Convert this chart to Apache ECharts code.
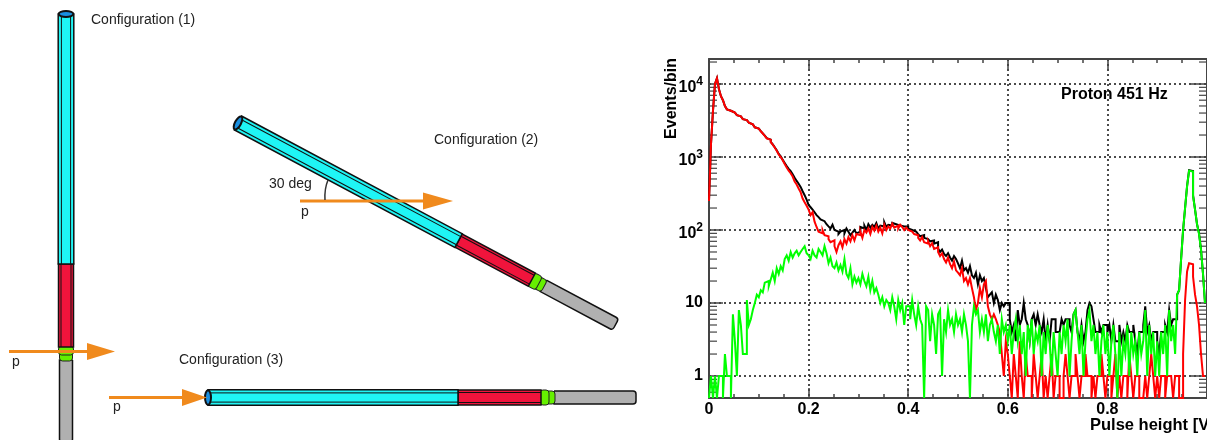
<!DOCTYPE html>
<html>
<head>
<meta charset="utf-8">
<title>Pulse height</title>
<script src="https://cdn.jsdelivr.net/npm/echarts@6/dist/echarts.min.js"></script>
<style>
	html, body { margin: 0; padding: 0; background: #fff; overflow: hidden; }
	#chart { width: 1207px; height: 440px; }
</style>
</head>
<body>
<div id="chart"></div>
<script>
	/* histogram contents, one row = 25 bins = 0.1 V */
	var binWidth = 0.004;

	var blackCounts = [
		250, 1500, 4300, 10000, 12000, 8500, 6800, 6000, 5000, 4500, 4300, 4200, 4050, 3900, 3750, 3600, 3450, 3300, 3200, 3050, 2950, 2800, 2650, 2550, 2450,
		2370, 2260, 2110, 1960, 1810, 1730, 1610, 1490, 1360, 1240, 1100, 1020, 920, 830, 750, 690, 640, 580, 520, 470, 430, 390, 340, 300, 260,
		220, 205, 190, 175, 160, 150, 140, 132, 125, 120, 112, 105, 118, 100, 95, 88, 95, 100, 90, 105, 95, 85, 92, 100, 90,
		95, 110, 105, 115, 100, 120, 108, 118, 110, 125, 105, 115, 112, 128, 110, 118, 115, 125, 120, 118, 115, 120, 112, 108, 112,
		105, 100, 102, 95, 92, 88, 82, 85, 78, 75, 78, 70, 72, 65, 68, 56, 50, 54, 47, 44, 48, 42, 38, 44, 40,
		35, 30, 38, 28, 30, 26, 32, 24, 22, 26, 18, 24, 20, 22, 16, 12, 13, 14, 10, 13, 11, 8, 10, 9, 10,
		10, 6, 4, 5, 3, 8, 5, 6, 10, 6, 5, 3, 6, 7, 5, 7, 5, 4, 6, 3, 5, 3, 6, 6, 4,
		4, 4, 6, 5, 6, 6, 5, 4, 7, 8, 4, 3, 5, 3, 4, 8, 10, 9, 6, 4, 4, 5, 4, 5, 5,
		4, 5, 3, 5, 3, 3, 5, 3, 4, 3, 5, 4, 4, 5, 3, 2, 4, 4, 5, 9, 4, 5, 3, 4, 4,
		3, 2, 4, 4, 5, 4, 8, 5, 6, 6, 13, 15, 40, 100, 200, 400, 660, 640, 300, 190, 120, 90, 54, 25, 10
	];

	var redCounts = [
		250, 1500, 4300, 10000, 12000, 8500, 6800, 6000, 5000, 4500, 4300, 4200, 4050, 3900, 3750, 3600, 3450, 3300, 3200, 3050, 2950, 2800, 2650, 2550, 2450,
		2370, 2250, 2100, 1950, 1800, 1720, 1600, 1480, 1350, 1220, 1080, 1000, 900, 800, 720, 650, 600, 540, 460, 420, 370, 330, 270, 240, 215,
		190, 160, 175, 130, 110, 95, 90, 100, 85, 82, 75, 68, 72, 60, 50, 62, 70, 58, 75, 65, 80, 70, 85, 72, 88,
		85, 95, 78, 100, 92, 105, 88, 110, 98, 115, 95, 108, 90, 118, 100, 112, 105, 122, 108, 115, 105, 118, 110, 100, 108,
		100, 95, 98, 88, 85, 78, 72, 80, 68, 65, 70, 60, 66, 55, 58, 50, 44, 48, 40, 36, 42, 34, 30, 37, 28,
		26, 24, 30, 20, 22, 18, 22, 16, 12, 8, 10, 16, 12, 18, 20, 9, 7, 6, 7, 6, 5, 4, 2, 1, 3,
		2, 1, 0, 2, 1, 0, 3, 1, 0, 2, 1, 1, 0, 2, 1, 0, 1, 2, 0, 1, 0, 1, 2, 0, 1,
		1, 0, 0, 1, 2, 1, 0, 1, 1, 2, 1, 0, 1, 1, 2, 1, 1, 0, 1, 0, 1, 1, 2, 1, 0,
		1, 1, 0, 1, 2, 0, 1, 0, 1, 1, 0, 2, 1, 0, 1, 1, 0, 0, 0, 1, 0, 1, 2, 1, 0,
		1, 0, 1, 1, 0, 1, 1, 1, 0, 1, 1, 0, 0, 2, 11, 27, 35, 34, 23, 13, 9, 5, 2, 1, 1
	];

	var greenCounts = [
		0, 1, 0, 1, 0, 1, 1, 0, 2, 1, 1, 0, 7, 3, 1, 8, 5, 2, 2, 11, 5, 6, 8, 10, 13,
		12, 15, 14, 19, 20, 17, 21, 26, 20, 30, 25, 32, 28, 40, 45, 38, 50, 42, 48, 52, 45, 50, 55, 60, 48,
		45, 40, 52, 45, 42, 55, 50, 45, 60, 48, 35, 42, 32, 30, 36, 28, 33, 27, 40, 25, 22, 30, 18, 23, 19,
		22, 18, 25, 20, 17, 23, 15, 20, 14, 16, 13, 10, 12, 9, 11, 10, 8, 12, 9, 6, 11, 8, 10, 5, 9,
		9, 6, 11, 7, 5, 9, 6, 5, 0, 9, 8, 3, 7, 5, 2, 7, 8, 1, 6, 4, 8, 5, 6, 4, 7,
		5, 6, 4, 7, 5, 3, 0, 5, 9, 7, 8, 4, 6, 4, 7, 3, 5, 6, 4, 3, 5, 2, 6, 4, 5,
		3, 5, 2, 4, 6, 3, 5, 2, 4, 1, 5, 3, 6, 2, 4, 3, 5, 1, 4, 2, 5, 3, 1, 4, 2,
		1, 4, 2, 5, 3, 6, 1, 3, 7, 8, 4, 2, 5, 1, 3, 6, 8, 3, 5, 2, 4, 1, 3, 5, 2,
		4, 1, 3, 5, 2, 0, 4, 1, 3, 2, 5, 1, 4, 2, 3, 1, 4, 2, 3, 8, 1, 5, 2, 4, 1,
		3, 1, 4, 2, 5, 1, 8, 3, 5, 2, 13, 15, 40, 100, 200, 400, 650, 630, 290, 190, 120, 88, 54, 25, 10
	];

	var yLimits = [0.5, 22000];
	var xLimits = [0, 1];
	var yMinorTicks = [
		0.6, 0.7, 0.8, 0.9,
		2, 3, 4, 5, 6, 7, 8, 9,
		20, 30, 40, 50, 60, 70, 80, 90,
		200, 300, 400, 500, 600, 700, 800, 900,
		2000, 3000, 4000, 5000, 6000, 7000, 8000, 9000,
		20000
	];

	var font = '"Liberation Sans", Arial, sans-serif';
	var frameColor = '#444';
	var orange = '#f08a1d';

	/* empty bins sit on the lower edge of the log axis */
	function toSeries(counts) {
		return counts.map(function(v, i) {
			return [+(i * binWidth).toFixed(3), Math.max(v, yLimits[0])];
		});
	}

	function histSeries(name, counts, color) {
		return {
			name: name,
			type: 'line',
			step: 'end',
			data: toSeries(counts),
			showSymbol: false,
			silent: true,
			clip: true,
			lineStyle: { color: color, width: 2, join: 'miter' }
		};
	}

	function yLabel(v) {
		if (v === 1 || v === 10) return String(v);
		if (v === 100) return '{b|10}{s|2}';
		if (v === 1000) return '{b|10}{s|3}';
		if (v === 10000) return '{b|10}{s|4}';
		return '';
	}

	/* detector schematic, drawn along +x then rotated into place */
	function tube(x, y, angle) {
		function section(u0, u1, half, inner, fill, radius) {
			return [{
				type: 'rect',
				shape: { x: u0, y: -half, width: u1 - u0, height: half * 2, r: radius || 0 },
				style: { fill: fill, stroke: '#111', lineWidth: 1.5 }
			}, {
				type: 'line',
				shape: { x1: u0, y1: -inner, x2: u1, y2: -inner },
				style: { stroke: '#111', lineWidth: 1 }
			}, {
				type: 'line',
				shape: { x1: u0, y1: inner, x2: u1, y2: inner },
				style: { stroke: '#111', lineWidth: 1 }
			}];
		}
		function collar(u0, u1, half) {
			return {
				type: 'rect',
				shape: { x: u0, y: -half, width: u1 - u0, height: half * 2, r: 3 },
				style: { fill: '#66f000', stroke: '#222', lineWidth: 1 }
			};
		}
		var children = [].concat(
			[{
				type: 'rect',
				shape: { x: 346, y: -6.5, width: 82, height: 13, r: [0, 3, 3, 0] },
				style: { fill: '#b0b0b0', stroke: '#111', lineWidth: 1.5 }
			}],
			[collar(338, 347, 6.5), collar(332, 341, 7.5)],
			section(250, 333, 7.5, 5, '#f0143c'),
			section(0, 250, 7.8, 4.6, '#1ff5f5'),
			[{
				type: 'ellipse',
				shape: { cx: 0, cy: 0, rx: 3, ry: 7.3 },
				style: { fill: '#1a8fe0', stroke: '#111', lineWidth: 2 }
			}]
		);
		return { type: 'group', x: x, y: y, rotation: -angle * Math.PI / 180, children: children };
	}

	function arrow(x0, xHead, xTip, y) {
		return {
			type: 'group',
			children: [{
				type: 'line',
				shape: { x1: x0, y1: y, x2: xHead + 1, y2: y },
				style: { stroke: orange, lineWidth: 3 }
			}, {
				type: 'polygon',
				shape: { points: [[xHead, y - 8.5], [xTip, y], [xHead, y + 8.5]] },
				style: { fill: orange }
			}]
		};
	}

	function label(text, x, y, size, weight) {
		return {
			type: 'text',
			x: x,
			y: y,
			style: {
				text: text,
				fill: weight ? '#000' : '#222',
				font: (weight ? weight + ' ' : '') + size + 'px ' + font,
				textVerticalAlign: 'middle'
			}
		};
	}

	var myChart = echarts.init(document.getElementById('chart'));
	myChart.setOption({
		animation: false,
		backgroundColor: '#fff',
		textStyle: { fontFamily: font },
		grid: { left: 709, top: 59, width: 502, height: 339, containLabel: false },
		xAxis: [{
			type: 'value',
			position: 'bottom',
			min: xLimits[0],
			max: xLimits[1],
			interval: 0.2,
			axisLine: { onZero: false, lineStyle: { color: frameColor, width: 2 } },
			axisTick: { inside: true, length: 10, lineStyle: { color: frameColor, width: 1.5 } },
			minorTick: { show: true, splitNumber: 4, length: 4, lineStyle: { color: frameColor, width: 1.5 } },
			axisLabel: {
				margin: 4,
				fontSize: 16,
				fontWeight: 'bold',
				color: '#000',
				fontFamily: font,
				showMaxLabel: false,
				formatter: function(v) { return String(v); }
			},
			splitLine: { show: true, lineStyle: { color: '#111', type: [2, 3], width: 1.5 } }
		}, {
			type: 'value',
			position: 'top',
			min: xLimits[0],
			max: xLimits[1],
			interval: 0.2,
			axisLine: { onZero: false, lineStyle: { color: frameColor, width: 2 } },
			axisTick: { inside: true, length: 10, lineStyle: { color: frameColor, width: 1.5 } },
			minorTick: { show: true, splitNumber: 4, length: 4, lineStyle: { color: frameColor, width: 1.5 } },
			axisLabel: { show: false },
			splitLine: { show: false }
		}],
		yAxis: [{
			type: 'log',
			logBase: 10,
			position: 'left',
			min: yLimits[0],
			max: yLimits[1],
			axisLine: { onZero: false, lineStyle: { color: frameColor, width: 2 } },
			axisTick: { inside: true, length: 14, lineStyle: { color: frameColor, width: 1.5 } },
			axisLabel: {
				margin: 6,
				color: '#000',
				fontFamily: font,
				fontSize: 16,
				fontWeight: 'bold',
				showMinLabel: false,
				showMaxLabel: false,
				formatter: yLabel,
				rich: {
					b: { fontSize: 16, fontWeight: 'bold', fontFamily: font, color: '#000', padding: [8, 0, 0, 0] },
					s: { fontSize: 12, fontWeight: 'bold', fontFamily: font, color: '#000', verticalAlign: 'top', padding: [4, 0, 0, 0] }
				}
			},
			splitLine: { show: true, lineStyle: { color: '#111', type: [2, 3], width: 1.5 } }
		}, {
			type: 'log',
			logBase: 10,
			position: 'right',
			min: yLimits[0],
			max: yLimits[1],
			axisLine: { onZero: false, lineStyle: { color: frameColor, width: 2 } },
			axisTick: { inside: true, length: 16, lineStyle: { color: frameColor, width: 1.5 } },
			axisLabel: { show: false },
			splitLine: { show: false }
		}],
		series: [
			histSeries('All', blackCounts, '#000'),
			histSeries('Red', redCounts, '#ff0000'),
			histSeries('Green', greenCounts, '#00ff00'),
			{
				/* log decades need 2..9 minor ticks, both frame sides */
				type: 'custom',
				silent: true,
				clip: false,
				data: yMinorTicks.map(function(v) { return [0, v]; }),
				renderItem: function(params, api) {
					var left = api.coord([xLimits[0], api.value(1)]);
					var right = api.coord([xLimits[1], api.value(1)]);
					var style = { stroke: frameColor, lineWidth: 1.2 };
					return {
						type: 'group',
						children: [{
							type: 'line',
							shape: { x1: left[0], y1: left[1], x2: left[0] + 8, y2: left[1] },
							style: style
						}, {
							type: 'line',
							shape: { x1: right[0], y1: right[1], x2: right[0] - 8, y2: right[1] },
							style: style
						}]
					};
				}
			}
		],
		graphic: { elements: [
			tube(66, 14, 90),
			tube(238, 123, 28.07),
			tube(208, 397.5, 0),
			arrow(9, 87, 115, 351.5),
			arrow(300, 423, 453, 201),
			arrow(109, 182, 207, 397.5),
			{
				type: 'bezierCurve',
				shape: { x1: 325, y1: 200, x2: 328, y2: 180, cpx1: 324.5, cpy1: 192, cpx2: 325.5, cpy2: 186 },
				style: { stroke: '#333', lineWidth: 1.5, fill: 'none' }
			},
			label('Configuration (1)', 91, 20, 14),
			label('Configuration (2)', 434, 140, 14),
			label('Configuration (3)', 179, 360, 14),
			label('30 deg', 269, 184, 14),
			label('p', 12, 362, 14),
			label('p', 301, 212, 14),
			label('p', 113, 407, 14),
			label('Proton 451 Hz', 1061, 95, 16, 'bold'),
			label('Pulse height [V]', 1090, 425, 16.5, 'bold'),
			{
				type: 'text',
				x: 672,
				y: 58,
				rotation: Math.PI / 2,
				style: {
					text: 'Events/bin',
					fill: '#000',
					font: 'bold 16px ' + font,
					textAlign: 'right',
					textVerticalAlign: 'middle'
				}
			}
		] }
	});
</script>
</body>
</html>
